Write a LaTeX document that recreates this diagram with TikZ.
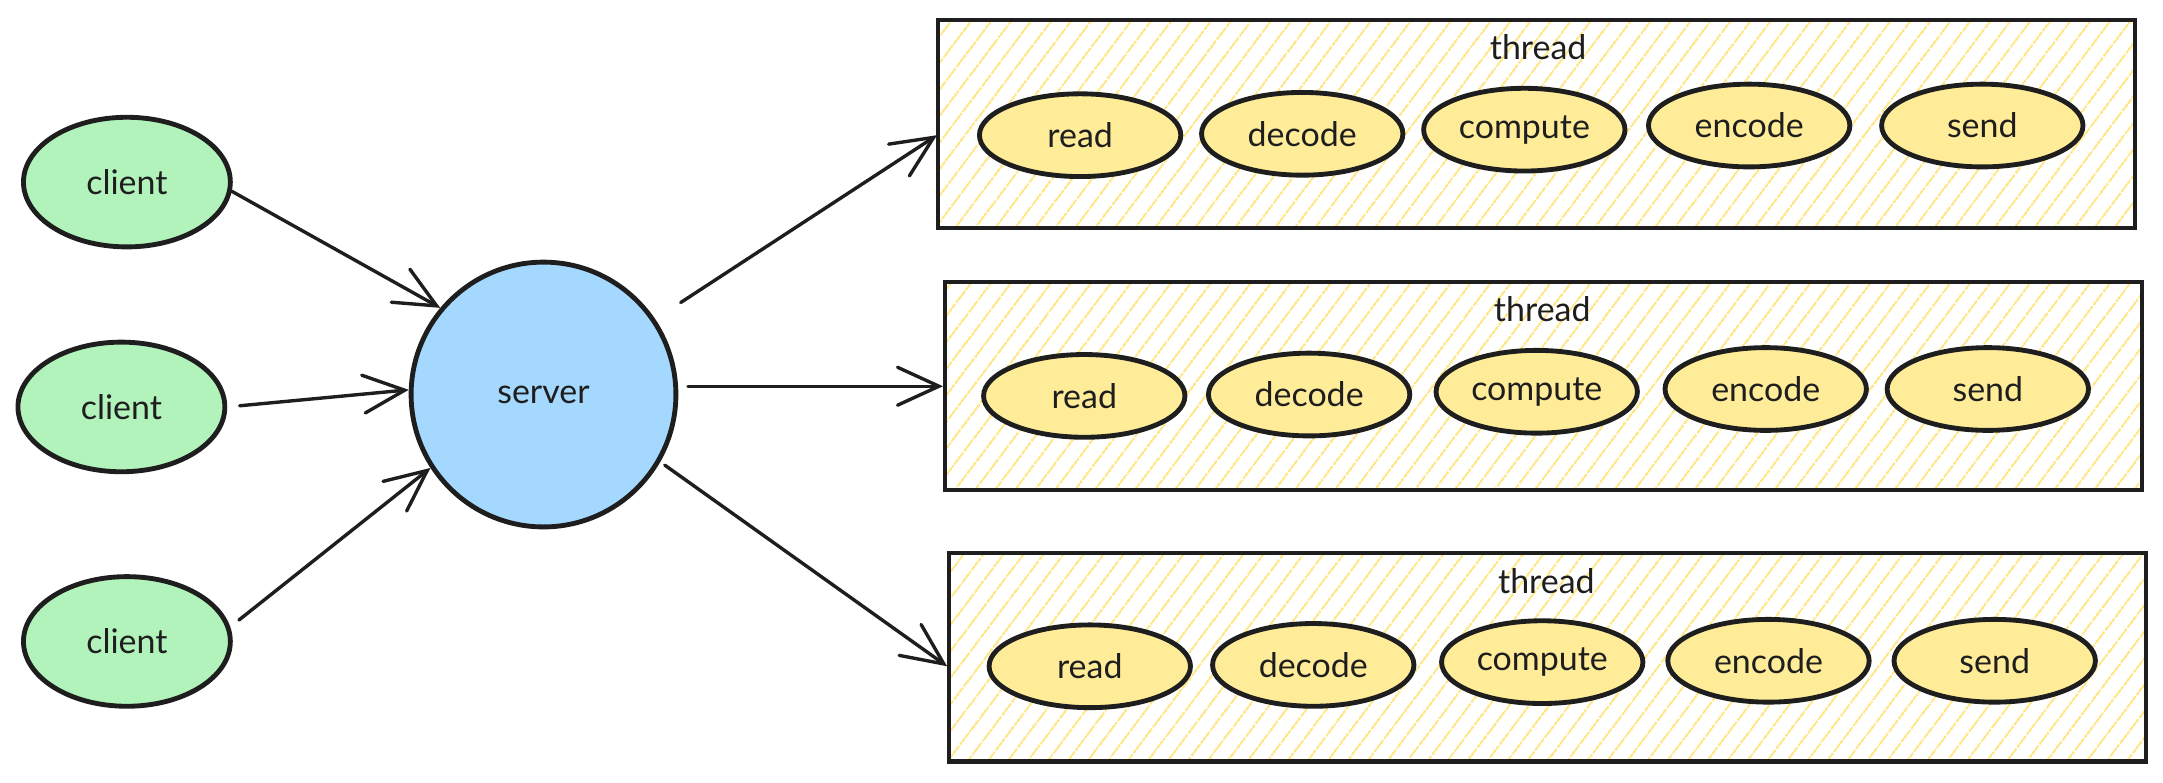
\documentclass[tikz,border=0pt]{standalone}
\usepackage{fontspec}
\setmainfont{Lato}
\usetikzlibrary{shapes.geometric,arrows.meta,patterns.meta,calc}
\definecolor{ink}{HTML}{1E1E1E}
\definecolor{cgreen}{HTML}{B2F2BB}
\definecolor{cblue}{HTML}{A5D8FF}
\definecolor{yel}{HTML}{FFEC99}
\definecolor{hatch}{HTML}{FFE88A}
\tikzset{
  client/.style={ellipse, draw=ink, line width=2pt, fill=cgreen, minimum width=3cm, minimum height=1.88cm, inner sep=0pt, text=ink},
  serverc/.style={circle, draw=ink, line width=2pt, fill=cblue, minimum size=3.84cm, inner sep=0pt, text=ink},
  stage/.style={ellipse, draw=ink, line width=2pt, fill=yel, minimum width=2.92cm, minimum height=1.2cm, inner sep=0pt, text=ink},
  threadbox/.style={rectangle, draw=ink, line width=1.7pt, pattern={Lines[angle=53,distance=6.5pt,line width=0.9pt]}, pattern color=hatch, minimum width=17.36cm, minimum height=3.02cm, inner sep=0pt},
  tlabel/.style={text=ink, inner sep=0pt},
  arr/.style={draw=ink, line width=1.4pt, line cap=round, -{Straight Barb[length=0.6cm,width=0.55cm,line cap=round]}}
}
\begin{document}
\begin{tikzpicture}[x=0.02cm,y=-0.02cm,font=\fontsize{14}{16}\selectfont]
\useasboundingbox (0,0) rectangle (1568,567);
% thread boxes
\node[threadbox] (t1) at (1114,90) {};
\node[threadbox] (t2) at (1119,280) {};
\node[threadbox] (t3) at (1122,476.5) {};
\node[tlabel] (t1l) at (1115,34) {thread};
\node[tlabel] (t2l) at (1118,224) {thread};
\node[tlabel] (t3l) at (1121,421) {thread};
% stages
\node[stage] (r1) at (783,98) {read};
\node[stage] (d1) at (944,97) {decode};
\node[stage] (c1s) at (1105,94) {compute};
\node[stage] (e1) at (1268,91) {encode};
\node[stage] (s1) at (1437,91) {send};
\node[stage] (r2) at (786,287) {read};
\node[stage] (d2) at (949,286) {decode};
\node[stage] (c2s) at (1114,284) {compute};
\node[stage] (e2) at (1280,282) {encode};
\node[stage] (s2) at (1441,282) {send};
\node[stage] (r3) at (790,483) {read};
\node[stage] (d3) at (952,482) {decode};
\node[stage] (c3s) at (1118,480) {compute};
\node[stage] (e3) at (1282,479) {encode};
\node[stage] (s3) at (1446,479) {send};
% clients and server
\node[client] (c1) at (92,132) {client};
\node[client] (c2) at (88,295) {client};
\node[client] (c3) at (92,465) {client};
\node[serverc] (server) at (394,286) {server};
% arrows
\draw[arr] (c1.-5) -- (server.140);
\draw[arr, shorten <=0.18cm] (c2.east) -- (server.178);
\draw[arr, shorten <=0.16cm] (c3.8) -- (server.213);
\draw[arr, shorten <=0.44cm] (server.34) -- (t1.west |- r1);
\draw[arr, shorten <=0.14cm] (server.east |- t2.west) -- (t2.west);
\draw[arr, shorten <=0.08cm] (server.-30) -- (t3.west |- r3);
\end{tikzpicture}
\end{document}
